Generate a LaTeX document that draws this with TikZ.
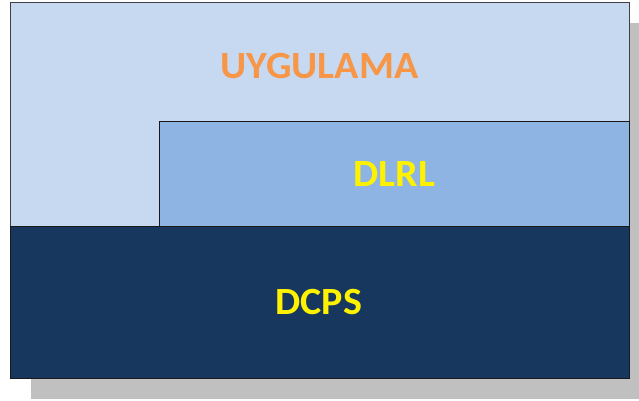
\documentclass[tikz,border=0pt]{standalone}
\usepackage{fontspec}
\setmainfont{Carlito}[FakeStretch=1.04]
\definecolor{uyglight}{HTML}{C6D9F1}
\definecolor{dlrlblue}{HTML}{8EB4E3}
\definecolor{dcpsnavy}{HTML}{17375E}
\definecolor{uygorange}{HTML}{F79646}
\definecolor{shadowgray}{HTML}{C0C0C0}
\tikzset{
  layer/.style={draw=black!75, line width=1pt, rectangle, inner sep=0pt, anchor=north west},
  layertext/.style={font=\bfseries\fontsize{38.5}{40}\selectfont, inner sep=0pt}
}
\begin{document}
\begin{tikzpicture}[x=1pt, y=-1pt]
		\useasboundingbox (0,0) rectangle (639,401);
		% shadow behind the stack
		\fill[shadowgray] (31,23) rectangle (639,399);
		
		% layers
		\node[layer, fill=uyglight, minimum width=619pt, minimum height=224pt] (uyg) at (10,2) {};
		\node[layer, fill=dlrlblue, draw=black!90, minimum width=470pt, minimum height=105pt] (dlrl) at (159,121) {};
		\node[layer, fill=dcpsnavy, draw=black!90, minimum width=619pt, minimum height=152pt] (dcps) at (10,226) {};
		
		% labels
		\node[layertext, text=uygorange] (uyglabel) at (319.5,66.2) {UYGULAMA};
		\node[layertext, text=yellow] (dlrllabel) at (394.5,173.8) {DLRL};
		\node[layertext, text=yellow] (dcpslabel) at (318.7,301.7) {DCPS};
	\end{tikzpicture}
\end{document}
